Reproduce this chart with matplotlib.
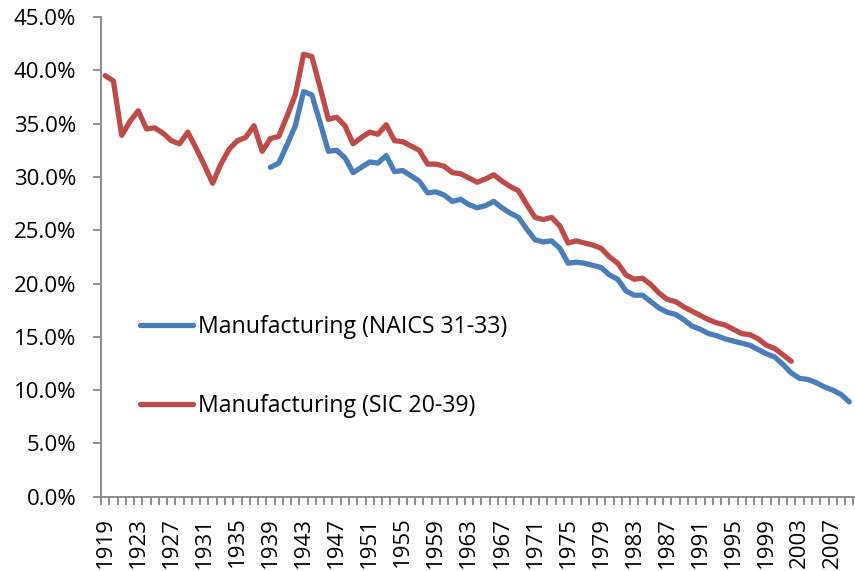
"""Manufacturing share chart: NAICS 31-33 vs SIC 20-39, 1919-2009."""
import matplotlib
matplotlib.use("Agg")
import matplotlib.pyplot as plt
import numpy as np
from matplotlib.ticker import FixedLocator, FuncFormatter

BLUE, RED, AXIS = "#4a7ebb", "#be4b48", "#868686"
plt.rcParams["font.family"] = ["Open Sans", "DejaVu Sans"]

years = list(range(1919, 2010))

sic_years = list(range(1919, 2003))
sic = [39.5, 39.0, 33.9, 35.2, 36.2, 34.5, 34.6, 34.1, 33.4, 33.1,
       34.2, 32.7, 31.1, 29.4, 31.2, 32.6, 33.4, 33.7, 34.8, 32.4,
       33.6, 33.8, 35.7, 37.7, 41.5, 41.3, 38.4, 35.4, 35.6, 34.8,
       33.1, 33.7, 34.2, 34.0, 34.9, 33.4, 33.3, 32.9, 32.5, 31.2,
       31.2, 31.0, 30.4, 30.3, 29.9, 29.5, 29.8, 30.2, 29.6, 29.1,
       28.7, 27.4, 26.2, 26.0, 26.2, 25.4, 23.8, 24.0, 23.8, 23.6,
       23.3, 22.5, 21.9, 20.8, 20.4, 20.5, 19.9, 19.1, 18.5, 18.3,
       17.8, 17.4, 17.0, 16.6, 16.3, 16.1, 15.7, 15.3, 15.2, 14.8,
       14.2, 13.9, 13.3, 12.7]

naics_years = list(range(1939, 2010))
naics = [30.9, 31.3, 33.0, 34.8, 38.0, 37.7, 35.1, 32.4, 32.5, 31.8,
         30.4, 30.9, 31.4, 31.3, 32.0, 30.5, 30.6, 30.1, 29.6, 28.5,
         28.6, 28.3, 27.7, 27.9, 27.4, 27.1, 27.3, 27.7, 27.1, 26.6,
         26.2, 25.1, 24.1, 23.9, 24.0, 23.3, 21.9, 22.0, 21.9, 21.7,
         21.5, 20.8, 20.4, 19.3, 18.9, 18.9, 18.3, 17.7, 17.3, 17.1,
         16.6, 16.0, 15.7, 15.3, 15.1, 14.8, 14.6, 14.4, 14.2, 13.8,
         13.4, 13.1, 12.4, 11.6, 11.1, 11.0, 10.7, 10.3, 10.0, 9.6,
         8.9]

yticks = [0, 5, 10, 15, 20, 25, 30, 35, 40, 45]

fig = plt.figure(figsize=(8.55, 5.71), dpi=100, facecolor="white")
# axes box in pixels: left spine x=101, bottom y=497, top (45%) y=17
ax = fig.add_axes([101 / 855, 74.3 / 571, 754 / 855, 479.7 / 571])

xi_naics = np.array(naics_years) - years[0]
xi_sic = np.array(sic_years) - years[0]
ax.plot(xi_naics, naics, color=BLUE, lw=3.8, solid_capstyle="round",
        solid_joinstyle="round", label="Manufacturing (NAICS 31-33)")
ax.plot(xi_sic, sic, color=RED, lw=3.8, solid_capstyle="round",
        solid_joinstyle="round", label="Manufacturing (SIC 20-39)")

ax.set_xlim(-0.5, 90.7)
ax.set_ylim(0, 45)

for sp in ("top", "right"):
    ax.spines[sp].set_visible(False)
for sp in ("left", "bottom"):
    ax.spines[sp].set_color(AXIS)
    ax.spines[sp].set_linewidth(1.3)

ax.set_yticks(yticks)
ax.yaxis.set_major_formatter(FuncFormatter(lambda v, _: f"{v:.1f}%"))
ax.tick_params(axis="y", length=5.8, width=1.3, color=AXIS, labelsize=16,
               pad=12, labelcolor="black")

lab_idx = list(range(0, len(years), 4))
ax.set_xticks(lab_idx, [str(years[i]) for i in lab_idx], rotation=90)
ax.xaxis.set_minor_locator(FixedLocator(np.arange(-0.5, len(years), 1.0)))
ax.tick_params(axis="x", which="major", length=0, pad=14.4, labelsize=16,
               labelcolor="black")
ax.tick_params(axis="x", which="minor", length=5.8, width=1.3, color=AXIS)

leg = ax.legend(loc="upper left", bbox_to_anchor=(39 / 754, 0.379),
                frameon=False, fontsize=16.7, handlelength=2.28,
                handletextpad=0.22, labelspacing=2.38,
                borderpad=0, borderaxespad=0)

fig.savefig("out.png", dpi=100, facecolor="white")
